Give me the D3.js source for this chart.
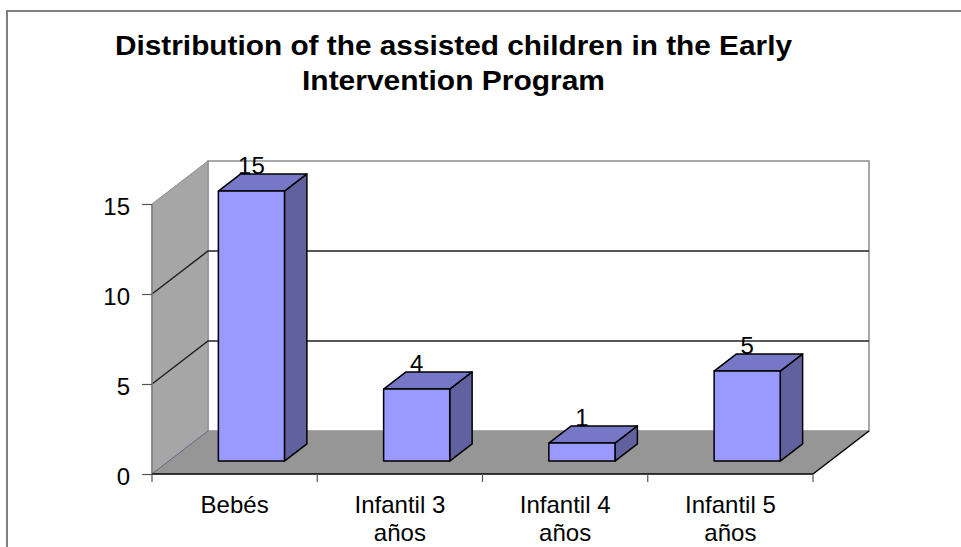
<!DOCTYPE html>
<html>
<head>
<meta charset="utf-8">
<script src="https://cdn.jsdelivr.net/npm/d3@7"></script>
<style>
  body { margin: 0; background: #fff; }
  svg { display: block; font-family: "Liberation Sans", Arial, sans-serif; }
</style>
</head>
<body>
<svg id="chart" width="961" height="547"></svg>
<script>
// data
var categories = ["Bebés", "Infantil 3\naños", "Infantil 4\naños", "Infantil 5\naños"];
var values = [15, 4, 1, 5];
var yTicks = [0, 5, 10, 15];
var titleLines = ["Distribution of the assisted children in the Early", "Intervention Program"];

var width = 961, height = 547;

var svg = d3.select("#chart");

// scales
var x = d3.scaleBand()
    .domain(categories)
    .range([152, 813])
    .paddingInner(0.6)
    .paddingOuter(0.3);

var y = d3.scaleLinear()
    .domain([0, 15])
    .range([474, 204]);

// depth axis (0 = front, 1 = back wall)
var depthX = d3.scaleLinear().domain([0, 1]).range([0, 56]);
var depthY = d3.scaleLinear().domain([0, 1]).range([0, -43]);

var depth = d3.scaleBand()
    .domain(["s"])
    .range([0, 1])
    .paddingInner(0.6)
    .paddingOuter(0.3);

var p = (px, v, d) => [px + depthX(d), y(v) + depthY(d)];
var poly = pts => "M" + pts.map(q => q.join(",")).join("L") + "Z";

var xMin = x.range()[0], xMax = x.range()[1];
var vMax = y.domain()[1];

// frame
svg.append("path")
    .attr("d", `M7,${height}V11H${width}`)
    .attr("fill", "none")
    .attr("stroke", "#7f7f7f")
    .attr("stroke-width", 2);

// title
svg.append("g")
    .selectAll("text")
    .data(titleLines)
    .join("text")
    .attr("x", 453.5)
    .attr("y", (d, i) => 55 + i * 35)
    .attr("text-anchor", "middle")
    .attr("font-size", 28)
    .attr("font-weight", "bold")
    .attr("textLength", (d, i) => i ? 303 : 677)
    .attr("lengthAdjust", "spacingAndGlyphs")
    .text(d => d);

// walls and floor
var walls = svg.append("g");

walls.append("path")
    .attr("d", poly([p(xMin, 0, 1), p(xMax, 0, 1), p(xMax, vMax, 1), p(xMin, vMax, 1)]))
    .attr("fill", "#fff")
    .attr("stroke", "#8c8c8c")
    .attr("stroke-width", 1.5);

walls.append("path")
    .attr("d", poly([p(xMin, 0, 0), p(xMin, 0, 1), p(xMin, vMax, 1), p(xMin, vMax, 0)]))
    .attr("fill", "#a6a6a6")
    .attr("stroke", "#8c8c8c")
    .attr("stroke-width", 1);

walls.append("path")
    .attr("d", poly([p(xMin, 0, 0), p(xMax, 0, 0), p(xMax, 0, 1), p(xMin, 0, 1)]))
    .attr("fill", "#969696")
    .attr("stroke", "none");

// floor edges: right diagonal black, left diagonal thin
walls.append("path")
    .attr("d", "M" + p(xMax, 0, 0).join(",") + "L" + p(xMax, 0, 1).join(","))
    .attr("stroke", "#000")
    .attr("stroke-width", 1.5);

walls.append("path")
    .attr("d", "M" + p(xMin, 0, 0).join(",") + "L" + p(xMin, 0, 1).join(","))
    .attr("stroke", "#6a6a8a")
    .attr("stroke-width", 1);

// gridlines
svg.append("g")
    .selectAll("path")
    .data(yTicks.filter(v => v > 0 && v < vMax))
    .join("path")
    .attr("d", v => "M" + [p(xMin, v, 0), p(xMin, v, 1), p(xMax, v, 1)].map(q => q.join(",")).join("L"))
    .attr("fill", "none")
    .attr("stroke", "#222")
    .attr("stroke-width", 1.5);

// bars
var d0 = depth("s"), d1 = d0 + depth.bandwidth();
var bw = x.bandwidth();

var bars = svg.append("g")
    .selectAll("g")
    .data(categories.map((c, i) => ({ c: c, v: values[i] })))
    .join("g");

bars.append("path")
    .attr("d", d => {
        var x0 = x(d.c), x1 = x0 + bw;
        return poly([p(x1, d.v, d0), p(x1, d.v, d1), p(x1, 0, d1), p(x1, 0, d0)]);
    })
    .attr("fill", "#61619f")
    .attr("stroke", "#000")
    .attr("stroke-width", 1.5)
    .attr("stroke-linejoin", "round");

bars.append("path")
    .attr("d", d => {
        var x0 = x(d.c), x1 = x0 + bw;
        return poly([p(x0, d.v, d0), p(x1, d.v, d0), p(x1, d.v, d1), p(x0, d.v, d1)]);
    })
    .attr("fill", "#7777c8")
    .attr("stroke", "#000")
    .attr("stroke-width", 1.5)
    .attr("stroke-linejoin", "round");

bars.append("path")
    .attr("d", d => {
        var x0 = x(d.c), x1 = x0 + bw;
        return poly([p(x0, d.v, d0), p(x1, d.v, d0), p(x1, 0, d0), p(x0, 0, d0)]);
    })
    .attr("fill", "#9999ff")
    .attr("stroke", "#000")
    .attr("stroke-width", 1.5)
    .attr("stroke-linejoin", "round");

// value labels
bars.append("text")
    .attr("x", d => x(d.c) + bw / 2 + depthX(d0))
    .attr("y", d => y(d.v) + depthY(d1))
    .attr("text-anchor", "middle")
    .attr("font-size", 24)
    .text(d => d.v);

// y axis
var yAxis = svg.append("g")
    .attr("transform", `translate(${xMin},0)`)
    .call(d3.axisLeft(y).tickValues(yTicks).tickSize(10).tickSizeOuter(0).tickPadding(12));

yAxis.select(".domain").attr("stroke", "#808080").attr("stroke-width", 1.5)
    .attr("d", `M0,${y(0)}V${y(vMax)}`);
yAxis.selectAll(".tick line").attr("stroke", "#555").attr("stroke-width", 1.2);
yAxis.selectAll(".tick text")
    .attr("font-size", 24)
    .attr("font-family", "Liberation Sans, Arial, sans-serif")
    .attr("dy", "0.42em")
    .attr("fill", "#000");

// x axis
var bounds = d3.range(categories.length + 1).map(i => xMin + i * x.step());

var xAxis = svg.append("g");

xAxis.append("line")
    .attr("x1", xMin).attr("x2", xMax)
    .attr("y1", y(0)).attr("y2", y(0))
    .attr("stroke", "#000")
    .attr("stroke-width", 1.5);

xAxis.selectAll(".xt")
    .data(bounds)
    .join("line")
    .attr("class", "xt")
    .attr("x1", d => d).attr("x2", d => d)
    .attr("y1", y(0)).attr("y2", y(0) + 8)
    .attr("stroke", "#555")
    .attr("stroke-width", 1.2);

xAxis.selectAll(".xl")
    .data(categories)
    .join("text")
    .attr("class", "xl")
    .attr("text-anchor", "middle")
    .attr("font-size", 24)
    .selectAll("tspan")
    .data(d => d.split("\n").map(t => ({ t: t, c: d })))
    .join("tspan")
    .attr("x", d => x(d.c) + bw / 2)
    .attr("y", (d, i) => y(0) + 39 + i * 28)
    .text(d => d.t);
</script>
</body>
</html>
